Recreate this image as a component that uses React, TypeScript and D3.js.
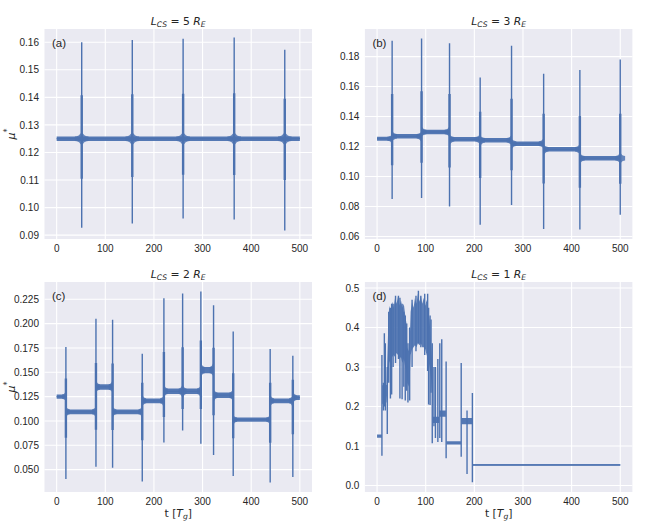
import React, { useEffect, useRef } from 'react';
import * as d3 from 'd3';

type Plateau = [number, number, number, number]; // t0, t1, level, half-amplitude of the fast oscillation
type Spike = [number, number, number]; // t, min, max
type Env = [number, number, number]; // t, lo, hi

const W = 664;
const H = 532;
const LINE = '#4C72B0';
const BG = '#EAEAF2';
const TXT = '#262626';

const timeTicks = [0, 100, 200, 300, 400, 500];

// (a) L_CS = 5 R_E
const aYTicks = [0.09, 0.1, 0.11, 0.12, 0.13, 0.14, 0.15, 0.16];
const aPlateaus: Plateau[] = [[0, 500, 0.125, 0.0008]];
const aSpikes: Spike[] = [
  [51.5, 0.0927, 0.16],
  [155.5, 0.0942, 0.1608],
  [260, 0.096, 0.1613],
  [365, 0.0957, 0.1617],
  [469, 0.0917, 0.1573],
];

// (b) L_CS = 3 R_E
const bYTicks = [0.06, 0.08, 0.1, 0.12, 0.14, 0.16, 0.18];
const bPlateaus: Plateau[] = [
  [0, 31, 0.1252, 0.0013],
  [31, 91.5, 0.1268, 0.0015],
  [91.5, 149, 0.1297, 0.0015],
  [149, 212, 0.1248, 0.0015],
  [212, 276.5, 0.1241, 0.0015],
  [276.5, 342.5, 0.1219, 0.0015],
  [342.5, 417, 0.1181, 0.0015],
  [417, 500, 0.1122, 0.0015],
];
const bSpikes: Spike[] = [
  [31, 0.085, 0.1906],
  [91.5, 0.0857, 0.192],
  [149, 0.08, 0.1889],
  [212, 0.0678, 0.166],
  [276.5, 0.081, 0.1872],
  [342.5, 0.065, 0.1685],
  [417, 0.0647, 0.171],
  [500, 0.0744, 0.178],
];

// (c) L_CS = 2 R_E
const cYTicks = [0.05, 0.075, 0.1, 0.125, 0.15, 0.175, 0.2, 0.225];
const cPlateaus: Plateau[] = [
  [0, 19, 0.125, 0.0022],
  [19, 81, 0.1094, 0.0025],
  [81, 115, 0.135, 0.0028],
  [115, 176, 0.1094, 0.0025],
  [176, 220.5, 0.1206, 0.0025],
  [220.5, 296.5, 0.1305, 0.0028],
  [296.5, 322.6, 0.1523, 0.0032],
  [322.6, 363, 0.1265, 0.0028],
  [363, 439, 0.1013, 0.0022],
  [439, 485.6, 0.1206, 0.0025],
  [485.6, 500, 0.124, 0.0025],
];
const cSpikes: Spike[] = [
  [19, 0.0404, 0.176],
  [80.8, 0.053, 0.205],
  [115, 0.052, 0.204],
  [176, 0.0378, 0.169],
  [220.5, 0.0778, 0.226],
  [259, 0.0903, 0.231],
  [296.5, 0.0765, 0.233],
  [322.6, 0.0649, 0.219],
  [363, 0.0435, 0.192],
  [439, 0.0367, 0.174],
  [485.6, 0.0424, 0.167],
];

// (d) L_CS = 1 R_E
const dYTicks = [0, 0.1, 0.2, 0.3, 0.4, 0.5];
const dPlateaus: Plateau[] = [
  [0, 10, 0.125, 0.004],
  [115, 127.5, 0.166, 0.008],
  [127.5, 141.5, 0.182, 0.008],
  [142.5, 172.5, 0.108, 0.004],
  [173.5, 195.5, 0.163, 0.008],
  [196.5, 500, 0.052, 0.0018],
];
const dEnvelope: Env[] = [
  [10.5, 0.205, 0.255], [14, 0.21, 0.25], [19.5, 0.21, 0.255], [21, 0.24, 0.32],
  [23.5, 0.28, 0.42], [25, 0.31, 0.455], [28, 0.32, 0.44], [31, 0.325, 0.465],
  [34, 0.33, 0.45], [37, 0.325, 0.475], [40, 0.335, 0.46], [43, 0.33, 0.478],
  [46, 0.32, 0.455], [49, 0.325, 0.47], [52, 0.31, 0.45], [55, 0.32, 0.46],
  [58, 0.3, 0.43], [60.5, 0.29, 0.41], [62, 0.26, 0.35], [65, 0.25, 0.34],
  [67.5, 0.28, 0.38], [69, 0.33, 0.44], [72, 0.345, 0.465], [75, 0.35, 0.45],
  [78, 0.355, 0.475], [81, 0.35, 0.46], [84, 0.36, 0.485], [87, 0.355, 0.465],
  [90, 0.36, 0.48], [93, 0.35, 0.46], [96, 0.35, 0.475], [99, 0.345, 0.455],
  [102, 0.33, 0.47], [105, 0.32, 0.44], [108, 0.3, 0.42], [111, 0.27, 0.36],
  [114, 0.22, 0.3], [115, 0.17, 0.25],
];
const dSpikes: Spike[] = [
  [10, 0.075, 0.33], [13, 0.19, 0.26], [15, 0.2, 0.385], [17, 0.19, 0.36],
  [21, 0.13, 0.3], [24, 0.26, 0.44], [27.5, 0.22, 0.45], [30, 0.23, 0.46],
  [33, 0.3, 0.46], [38, 0.31, 0.48], [44, 0.32, 0.48], [47, 0.22, 0.475],
  [51.5, 0.218, 0.46], [55, 0.25, 0.44], [58, 0.215, 0.43], [61, 0.24, 0.41],
  [63.5, 0.21, 0.36], [67, 0.215, 0.4], [72, 0.3, 0.47], [80, 0.34, 0.48],
  [85, 0.36, 0.493], [90, 0.35, 0.48], [98, 0.33, 0.485], [104, 0.29, 0.485],
  [106, 0.205, 0.45], [109, 0.204, 0.43], [111, 0.235, 0.42], [113.5, 0.107, 0.36],
  [117, 0.15, 0.3], [120, 0.12, 0.3], [125, 0.11, 0.32], [129, 0.12, 0.36],
  [133, 0.11, 0.37], [142, 0.069, 0.314], [173, 0.073, 0.31], [185, 0.029, 0.19],
  [196, 0.008, 0.234],
];

interface PanelCfg {
  letter: string;
  n: string;
  left: number;
  top: number;
  yDomain: [number, number];
  yTicks: number[];
  fmt: string;
  plateaus: Plateau[];
  spikes: Spike[];
  envelope?: Env[];
  flareT: number;
  flareK: number;
  inner: boolean;
  yLabel: boolean;
  xLabel: boolean;
}

const PW = 267.5;
const PH = 210;

const panels: PanelCfg[] = [
  { letter: '(a)', n: '5', left: 44.5, top: 29, yDomain: [0.0886, 0.1648], yTicks: aYTicks, fmt: '.2f',
    plateaus: aPlateaus, spikes: aSpikes, flareT: 14, flareK: 2.6, inner: true, yLabel: true, xLabel: false },
  { letter: '(b)', n: '3', left: 364.9, top: 29, yDomain: [0.0583, 0.1984], yTicks: bYTicks, fmt: '.2f',
    plateaus: bPlateaus, spikes: bSpikes, flareT: 10, flareK: 2.2, inner: true, yLabel: false, xLabel: false },
  { letter: '(c)', n: '2', left: 44.5, top: 282, yDomain: [0.027, 0.2428], yTicks: cYTicks, fmt: '.3f',
    plateaus: cPlateaus, spikes: cSpikes, flareT: 8, flareK: 2.2, inner: true, yLabel: true, xLabel: true },
  { letter: '(d)', n: '1', left: 364.9, top: 282, yDomain: [-0.0165, 0.515], yTicks: dYTicks, fmt: '.1f',
    plateaus: dPlateaus, spikes: dSpikes, envelope: dEnvelope, flareT: 0, flareK: 1, inner: false, yLabel: false, xLabel: true },
];

const findLevel = (ps: Plateau[], t: number) => ps.find(p => p[0] <= t && p[1] >= t);

function drawPanel(svg: d3.Selection<SVGSVGElement, unknown, null, undefined>, cfg: PanelCfg, idx: number) {
  const x = d3.scaleLinear().domain([-25, 525]).range([cfg.left, cfg.left + PW]);
  const y = d3.scaleLinear().domain(cfg.yDomain).range([cfg.top + PH, cfg.top]);
  const g = svg.append('g');

  g.append('rect')
    .attr('x', cfg.left).attr('y', cfg.top).attr('width', PW).attr('height', PH)
    .attr('fill', BG);

  // grid
  g.selectAll('.gx').data(timeTicks).enter().append('line')
    .attr('x1', d => x(d)).attr('x2', d => x(d))
    .attr('y1', cfg.top).attr('y2', cfg.top + PH)
    .attr('stroke', '#fff').attr('stroke-width', 1.1);
  g.selectAll('.gy').data(cfg.yTicks).enter().append('line')
    .attr('x1', cfg.left).attr('x2', cfg.left + PW)
    .attr('y1', d => y(d)).attr('y2', d => y(d))
    .attr('stroke', '#fff').attr('stroke-width', 1.1);

  const clipId = `clip-${idx}`;
  svg.append('clipPath').attr('id', clipId)
    .append('rect').attr('x', cfg.left).attr('y', cfg.top).attr('width', PW).attr('height', PH);
  const plot = g.append('g').attr('clip-path', `url(#${clipId})`);

  // envelope of the dense oscillation
  if (cfg.envelope) {
    const env = d3.area<Env>()
      .x(d => x(d[0]))
      .y0(d => y(d[1]))
      .y1(d => y(d[2]));
    plot.append('path').datum(cfg.envelope)
      .attr('d', env).attr('fill', LINE).attr('opacity', 0.9);
  }

  // plateau bands
  const band = d3.area<[number, number, number]>()
    .x(d => x(d[0]))
    .y0(d => y(d[1] - d[2]))
    .y1(d => y(d[1] + d[2]));
  cfg.plateaus.forEach(p => {
    const pts: [number, number, number][] = [[p[0], p[2], p[3]], [p[1], p[2], p[3]]];
    plot.append('path').datum(pts).attr('d', band).attr('fill', LINE).attr('opacity', 0.95);
    if (p[3] < 0.003) {
      plot.append('line')
        .attr('x1', x(p[0])).attr('x2', x(p[1]))
        .attr('y1', y(p[2])).attr('y2', y(p[2]))
        .attr('stroke', LINE).attr('stroke-width', 1.3);
    }
  });

  // flares around each jump
  if (cfg.flareT > 0) {
    const flare = d3.area<[number, number, number]>()
      .x(d => x(d[0]))
      .y0(d => y(d[1] - d[2]))
      .y1(d => y(d[1] + d[2]))
      .curve(d3.curveMonotoneX);
    cfg.spikes.forEach(s => {
      const L = findLevel(cfg.plateaus, s[0] - 0.5);
      const R = findLevel(cfg.plateaus, s[0] + 0.5) || L;
      if (!L || !R) return;
      const k = cfg.flareK;
      const f = cfg.flareT;
      const pts: [number, number, number][] = [
        [s[0] - f, L[2], L[3]],
        [s[0] - f * 0.45, L[2], L[3] * (1 + (k - 1) * 0.3)],
        [s[0] - 0.4, L[2], L[3] * k],
        [s[0] + 0.4, R[2], R[3] * k],
        [s[0] + f * 0.45, R[2], R[3] * (1 + (k - 1) * 0.3)],
        [s[0] + f, R[2], R[3]],
      ];
      plot.append('path').datum(pts).attr('d', flare).attr('fill', LINE).attr('opacity', 0.85);
    });
  }

  // spikes
  cfg.spikes.forEach(s => {
    plot.append('line')
      .attr('x1', x(s[0])).attr('x2', x(s[0]))
      .attr('y1', y(s[1])).attr('y2', y(s[2]))
      .attr('stroke', LINE).attr('stroke-width', 1.4);
    if (cfg.inner) {
      const L = findLevel(cfg.plateaus, s[0] - 0.5);
      const R = findLevel(cfg.plateaus, s[0] + 0.5) || L;
      if (!L || !R) return;
      const mid = (L[2] + R[2]) / 2;
      plot.append('line')
        .attr('x1', x(s[0])).attr('x2', x(s[0]))
        .attr('y1', y(mid - (mid - s[1]) * 0.45)).attr('y2', y(mid + (s[2] - mid) * 0.45))
        .attr('stroke', LINE).attr('stroke-width', 2.4);
    }
  });

  // tick labels
  const fmt = d3.format(cfg.fmt);
  g.selectAll('.ty').data(cfg.yTicks).enter().append('text')
    .attr('x', cfg.left - 5.5).attr('y', d => y(d) + 3.6)
    .attr('text-anchor', 'end')
    .attr('font-family', '"Liberation Sans", Arial, sans-serif').attr('font-size', 10)
    .attr('fill', TXT).text(d => fmt(d));
  g.selectAll('.tx').data(timeTicks).enter().append('text')
    .attr('x', d => x(d)).attr('y', cfg.top + PH + 12.5)
    .attr('text-anchor', 'middle')
    .attr('font-family', '"Liberation Sans", Arial, sans-serif').attr('font-size', 10)
    .attr('fill', TXT).text(d => String(d));

  // panel letter
  g.append('text')
    .attr('x', cfg.left + 7.5).attr('y', cfg.top + 18)
    .attr('font-family', '"Liberation Sans", Arial, sans-serif').attr('font-size', 11.5)
    .attr('fill', TXT).text(cfg.letter);

  // title L_CS = n R_E
  const cx = cfg.left + PW / 2;
  const title = g.append('text')
    .attr('x', cx).attr('y', cfg.top - 4.5)
    .attr('text-anchor', 'middle')
    .attr('font-family', '"DejaVu Sans", sans-serif').attr('font-size', 10.8)
    .attr('fill', TXT);
  title.append('tspan').attr('font-style', 'italic').text('L');
  title.append('tspan').attr('font-style', 'italic').attr('font-size', 7.6).attr('dy', 2).text('CS');
  title.append('tspan').attr('dy', -2).text(` = ${cfg.n} `);
  title.append('tspan').attr('font-style', 'italic').text('R');
  title.append('tspan').attr('font-style', 'italic').attr('font-size', 7.6).attr('dy', 2).text('E');

  if (cfg.yLabel) {
    const cy = cfg.top + PH / 2;
    const yl = g.append('text')
      .attr('transform', `translate(15,${cy}) rotate(-90)`)
      .attr('text-anchor', 'middle')
      .attr('font-family', '"DejaVu Sans", sans-serif').attr('font-size', 11)
      .attr('fill', TXT);
    yl.append('tspan').attr('font-style', 'italic').text('μ');
    yl.append('tspan').attr('font-size', 8).attr('dy', -5).text('*');
  }

  if (cfg.xLabel) {
    const xl = g.append('text')
      .attr('x', cx).attr('y', cfg.top + PH + 24.5)
      .attr('text-anchor', 'middle')
      .attr('font-family', '"DejaVu Sans", sans-serif').attr('font-size', 10.8)
      .attr('fill', TXT);
    xl.append('tspan').text('t [');
    xl.append('tspan').attr('font-style', 'italic').text('T');
    xl.append('tspan').attr('font-style', 'italic').attr('font-size', 7.6).attr('dy', 2).text('g');
    xl.append('tspan').attr('dy', -2).text(']');
  }
}

const App: React.FC = () => {
  const svgRef = useRef<SVGSVGElement>(null);

  useEffect(() => {
    const svg = d3.select(svgRef.current!);
    svg.selectAll('*').remove();
    svg.append('rect').attr('width', W).attr('height', H).attr('fill', '#fff');
    panels.forEach((p, i) => drawPanel(svg, p, i));
  }, []);

  return (
    <div style={{ position: 'absolute', left: 0, top: 0, width: W, height: H }}>
      <svg ref={svgRef} width={W} height={H} style={{ display: 'block' }}></svg>
    </div>
  );
};

export default App;
